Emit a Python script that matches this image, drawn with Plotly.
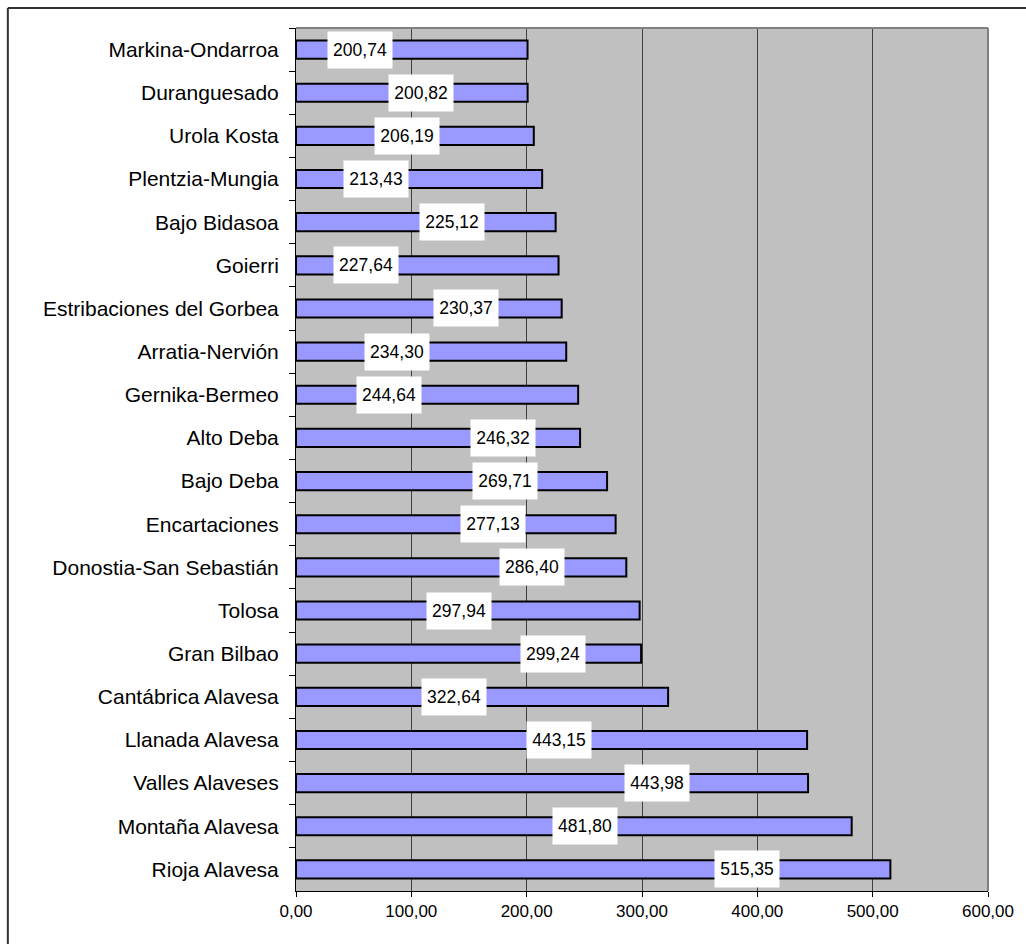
import plotly.graph_objects as go

# Comarcas, listed top to bottom
comarcas = [
    "Markina-Ondarroa", "Duranguesado", "Urola Kosta", "Plentzia-Mungia",
    "Bajo Bidasoa", "Goierri", "Estribaciones del Gorbea", "Arratia-Nervión",
    "Gernika-Bermeo", "Alto Deba", "Bajo Deba", "Encartaciones",
    "Donostia-San Sebastián", "Tolosa", "Gran Bilbao", "Cantábrica Alavesa",
    "Llanada Alavesa", "Valles Alaveses", "Montaña Alavesa", "Rioja Alavesa",
]
valores = [
    200.74, 200.82, 206.19, 213.43, 225.12, 227.64, 230.37, 234.30,
    244.64, 246.32, 269.71, 277.13, 286.40, 297.94, 299.24, 322.64,
    443.15, 443.98, 481.80, 515.35,
]
# Horizontal placement of each value label (axis units)
label_x = [
    55.3, 108.8, 96, 69, 135, 60.5, 147, 88, 81, 179.8,
    181.5, 171, 205, 141, 223, 136.6, 228, 313, 251, 390.8,
]
x_ticks = [0, 100, 200, 300, 400, 500, 600]


def fmt(v):
    return f"{v:.2f}".replace(".", ",")


FONT = "Liberation Sans, Arial, sans-serif"

fig = go.Figure(
    go.Bar(
        x=valores,
        y=comarcas,
        orientation="h",
        marker=dict(color="#9999FF", line=dict(color="#000000", width=2)),
        width=0.42,
        hoverinfo="x+y",
    )
)

for v, c, lx in zip(valores, comarcas, label_x):
    fig.add_annotation(
        x=lx, y=c, xref="x", yref="y",
        text=fmt(v), showarrow=False,
        bgcolor="white", width=64, height=36, borderpad=0,
        font=dict(family=FONT, size=17.5, color="#000000"),
    )

# outer chart border (top and left edges; the rest runs off the page)
fig.add_shape(type="line", xref="paper", yref="paper",
              x0=-0.4164, x1=1.1, y0=1.0232, y1=1.0232,
              line=dict(color="#333333", width=2))
fig.add_shape(type="line", xref="paper", yref="paper",
              x0=-0.4164, x1=-0.4164, y0=-0.1, y1=1.0232,
              line=dict(color="#333333", width=2))

fig.update_layout(
    width=1026, height=944,
    margin=dict(l=296, r=36, t=28, b=53),
    paper_bgcolor="white",
    plot_bgcolor="#C0C0C0",
    showlegend=False,
    font=dict(family=FONT, color="#000000"),
)
fig.update_xaxes(
    range=[0, 600], tickvals=x_ticks, ticktext=[fmt(t) for t in x_ticks],
    showgrid=True, gridcolor="#404040", gridwidth=1,
    zeroline=False, showline=True, linecolor="#000000", linewidth=1,
    ticks="outside", ticklen=5, tickcolor="#000000",
    tickfont=dict(family=FONT, size=17), mirror=False,
)
fig.update_yaxes(
    categoryorder="array", categoryarray=comarcas, autorange="reversed",
    showgrid=False, showline=True, linecolor="#000000", linewidth=1,
    ticks="outside", ticklen=6, tickcolor="#000000", tickson="boundaries",
    ticklabelstandoff=12,
    tickfont=dict(family=FONT, size=21),
)
# right and top edges of the plot area
fig.add_shape(type="line", xref="paper", yref="paper", x0=0, x1=1, y0=1, y1=1,
              line=dict(color="#808080", width=2))
fig.add_shape(type="line", xref="paper", yref="paper", x0=1, x1=1, y0=0, y1=1,
              line=dict(color="#808080", width=2))

fig.write_html("out.html")
